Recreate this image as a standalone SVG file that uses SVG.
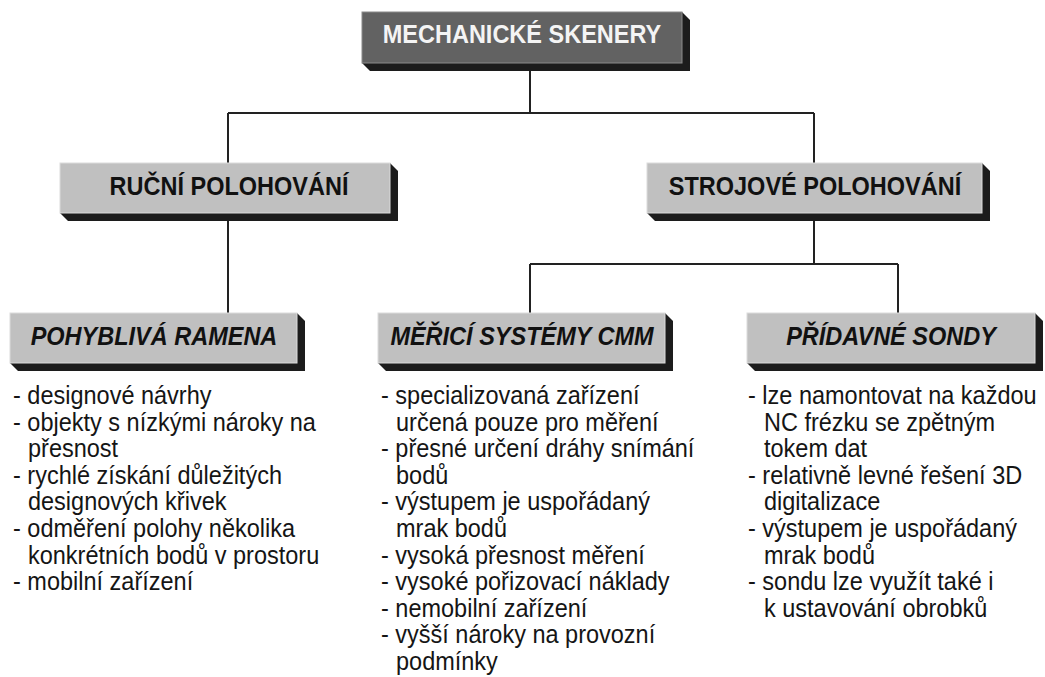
<svg xmlns="http://www.w3.org/2000/svg" width="1045" height="677" viewBox="0 0 1045 677">
  <style>
    .face { fill: #c0c0c0; stroke: #dcdcdc; stroke-width: 1; }
    .face-dark { fill: #626262; stroke: #8a8a8a; stroke-width: 1; }
    .depth { fill: #1c1c1c; }
    .head { font-family: "Liberation Sans", Arial, sans-serif; font-size: 23.5px; font-weight: bold; text-anchor: middle; fill: #111; }
    .head-w { fill: #f4f4f4; }
    .head-i { font-style: italic; }
    .item { font-family: "Liberation Sans", Arial, sans-serif; font-size: 23.5px; fill: #151515; }
    .link { fill: none; stroke: #222; stroke-width: 2; }
  </style>

  <!-- connectors -->
  <g id="connectors" class="link">
    <path d="M530 71 V113 M228 113 H814 M228 113 V163 M814 113 V163"/>
    <path d="M228 221 V313"/>
    <path d="M814 221 V264 M530 264 H898 M530 264 V313 M898 264 V313"/>
  </g>

  <!-- root; all text is drawn slightly taller (scale y 1.07 about its baseline) -->
  <g id="mechanicke-skenery">
    <polygon class="depth" points="362,63 370,71 690,71 690,20 682,12 682,63"/>
    <rect class="face-dark" x="362" y="12" width="320" height="51"/>
    <text class="head head-w" x="522" y="43" transform="matrix(1 0 0 1.07 0 -3.01)">MECHANICKÉ SKENERY</text>
  </g>

  <!-- second level -->
  <g id="rucni-polohovani">
    <polygon class="depth" points="60,213 68,221 398,221 398,171 390,163 390,213"/>
    <rect class="face" x="60" y="163" width="330" height="50"/>
    <text class="head" x="229" y="195" transform="matrix(1 0 0 1.07 0 -13.65)">RUČNÍ POLOHOVÁNÍ</text>
  </g>
  <g id="strojove-polohovani">
    <polygon class="depth" points="647,213 655,221 990,221 990,171 982,163 982,213"/>
    <rect class="face" x="647" y="163" width="335" height="50"/>
    <text class="head" x="815" y="195" transform="matrix(1 0 0 1.07 0 -13.65)">STROJOVÉ POLOHOVÁNÍ</text>
  </g>

  <!-- third level -->
  <g id="pohybliva-ramena">
    <polygon class="depth" points="10,363 18,371 305,371 305,321 297,313 297,363"/>
    <rect class="face" x="10" y="313" width="287" height="50"/>
    <text class="head head-i" x="154" y="345" transform="matrix(1 0 0 1.07 0 -24.15)">POHYBLIVÁ RAMENA</text>
    <text class="item" transform="matrix(1 0 0 1.07 0 -28.28)">
      <tspan x="13" y="404">- designové návrhy</tspan>
      <tspan x="13" y="428.86">- objekty s nízkými nároky na</tspan>
      <tspan x="28" y="453.72">přesnost</tspan>
      <tspan x="13" y="478.58">- rychlé získání důležitých</tspan>
      <tspan x="28" y="503.44">designových křivek</tspan>
      <tspan x="13" y="528.3">- odměření polohy několika</tspan>
      <tspan x="28" y="553.16">konkrétních bodů v prostoru</tspan>
      <tspan x="13" y="578.02">- mobilní zařízení</tspan>
    </text>
  </g>

  <g id="merici-systemy-cmm">
    <polygon class="depth" points="378,363 386,371 673,371 673,321 665,313 665,363"/>
    <rect class="face" x="378" y="313" width="287" height="50"/>
    <text class="head head-i" x="522" y="345" transform="matrix(1 0 0 1.07 0 -24.15)">MĚŘICÍ SYSTÉMY CMM</text>
    <text class="item" transform="matrix(1 0 0 1.07 0 -28.28)">
      <tspan x="381" y="404">- specializovaná zařízení</tspan>
      <tspan x="396" y="428.86">určená pouze pro měření</tspan>
      <tspan x="381" y="453.72">- přesné určení dráhy snímání</tspan>
      <tspan x="396" y="478.58">bodů</tspan>
      <tspan x="381" y="503.44">- výstupem je uspořádaný</tspan>
      <tspan x="396" y="528.3">mrak bodů</tspan>
      <tspan x="381" y="553.16">- vysoká přesnost měření</tspan>
      <tspan x="381" y="578.02">- vysoké pořizovací náklady</tspan>
      <tspan x="381" y="602.88">- nemobilní zařízení</tspan>
      <tspan x="381" y="627.74">- vyšší nároky na provozní</tspan>
      <tspan x="396" y="652.6">podmínky</tspan>
    </text>
  </g>

  <g id="pridavne-sondy">
    <polygon class="depth" points="747,363 755,371 1043,371 1043,321 1035,313 1035,363"/>
    <rect class="face" x="747" y="313" width="288" height="50"/>
    <text class="head head-i" x="891" y="345" transform="matrix(1 0 0 1.07 0 -24.15)">PŘÍDAVNÉ SONDY</text>
    <text class="item" transform="matrix(1 0 0 1.07 0 -28.28)">
      <tspan x="748" y="404">- lze namontovat na každou</tspan>
      <tspan x="764" y="428.86">NC frézku se zpětným</tspan>
      <tspan x="764" y="453.72">tokem dat</tspan>
      <tspan x="748" y="478.58">- relativně levné řešení 3D</tspan>
      <tspan x="764" y="503.44">digitalizace</tspan>
      <tspan x="748" y="528.3">- výstupem je uspořádaný</tspan>
      <tspan x="764" y="553.16">mrak bodů</tspan>
      <tspan x="748" y="578.02">- sondu lze využít také i</tspan>
      <tspan x="764" y="602.88">k ustavování obrobků</tspan>
    </text>
  </g>
</svg>
